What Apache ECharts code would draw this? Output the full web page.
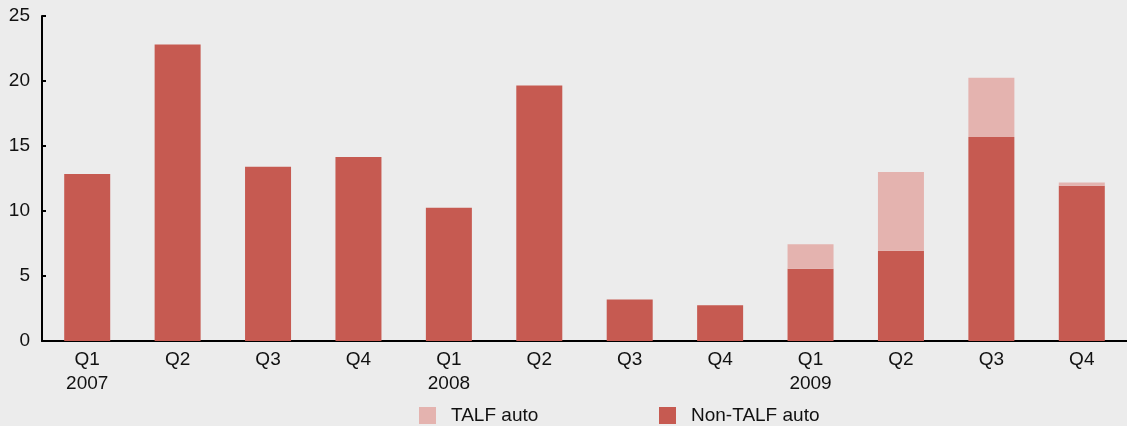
<!DOCTYPE html>
<html>
<head>
<meta charset="utf-8">
<script src="https://cdn.jsdelivr.net/npm/echarts@6/dist/echarts.min.js"></script>
<style>
  html, body { margin: 0; padding: 0; background: #ececec; }
  #chart { width: 1127px; height: 426px; }
</style>
</head>
<body>
<div id="chart"></div>
<script>
// quarters, with the year under each Q1
const quarters = ['Q1\n2007', 'Q2', 'Q3', 'Q4', 'Q1\n2008', 'Q2', 'Q3', 'Q4', 'Q1\n2009', 'Q2', 'Q3', 'Q4'];
const nonTalfAuto = [12.85, 22.8, 13.4, 14.15, 10.25, 19.65, 3.2, 2.75, 5.55, 6.95, 15.7, 11.95];
const talfAuto = [0, 0, 0, 0, 0, 0, 0, 0, 1.9, 6.05, 4.55, 0.25];
const yTicks = { min: 0, max: 25, interval: 5 };

const darkRed = '#c65a51';
const lightRed = '#e4b3af';
const font = 'Liberation Sans, Arial, Helvetica, sans-serif';

const chart = echarts.init(document.getElementById('chart'));
chart.setOption({
    backgroundColor: '#ececec',
    animation: false,
    textStyle: { fontFamily: font },
    grid: { left: 42, right: 0, top: 16, bottom: 85 },
    xAxis: {
        type: 'category',
        data: quarters,
        boundaryGap: true,
        axisLine: { lineStyle: { color: '#000', width: 2 } },
        axisTick: { inside: true, length: 5, lineStyle: { color: '#000', width: 2 } },
        axisLabel: { color: '#111', fontSize: 19, lineHeight: 24, margin: 7, interval: 0 }
    },
    yAxis: {
        type: 'value',
        min: yTicks.min,
        max: yTicks.max,
        interval: yTicks.interval,
        splitLine: { show: false },
        axisLine: { show: true, lineStyle: { color: '#000', width: 2 } },
        axisTick: { show: true, inside: true, length: 4, lineStyle: { color: '#000', width: 2 } },
        axisLabel: { color: '#111', fontSize: 19, margin: 12 }
    },
    legend: [
        {
            data: ['TALF auto'],
            left: 419, top: 406,
            itemWidth: 17, itemHeight: 17, itemGap: 0,
            textStyle: { fontSize: 19, color: '#111', padding: [0, 0, 0, 10] },
            icon: 'rect', padding: 0
        },
        {
            data: ['Non-TALF auto'],
            left: 659, top: 406,
            itemWidth: 17, itemHeight: 17, itemGap: 0,
            textStyle: { fontSize: 19, color: '#111', padding: [0, 0, 0, 10] },
            icon: 'rect', padding: 0
        }
    ],
    series: [
        {
            name: 'Non-TALF auto',
            type: 'bar',
            stack: 'auto',
            barWidth: 46,
            itemStyle: { color: darkRed },
            data: nonTalfAuto
        },
        {
            name: 'TALF auto',
            type: 'bar',
            stack: 'auto',
            barWidth: 46,
            itemStyle: { color: lightRed },
            data: talfAuto
        }
    ]
});
</script>
</body>
</html>
